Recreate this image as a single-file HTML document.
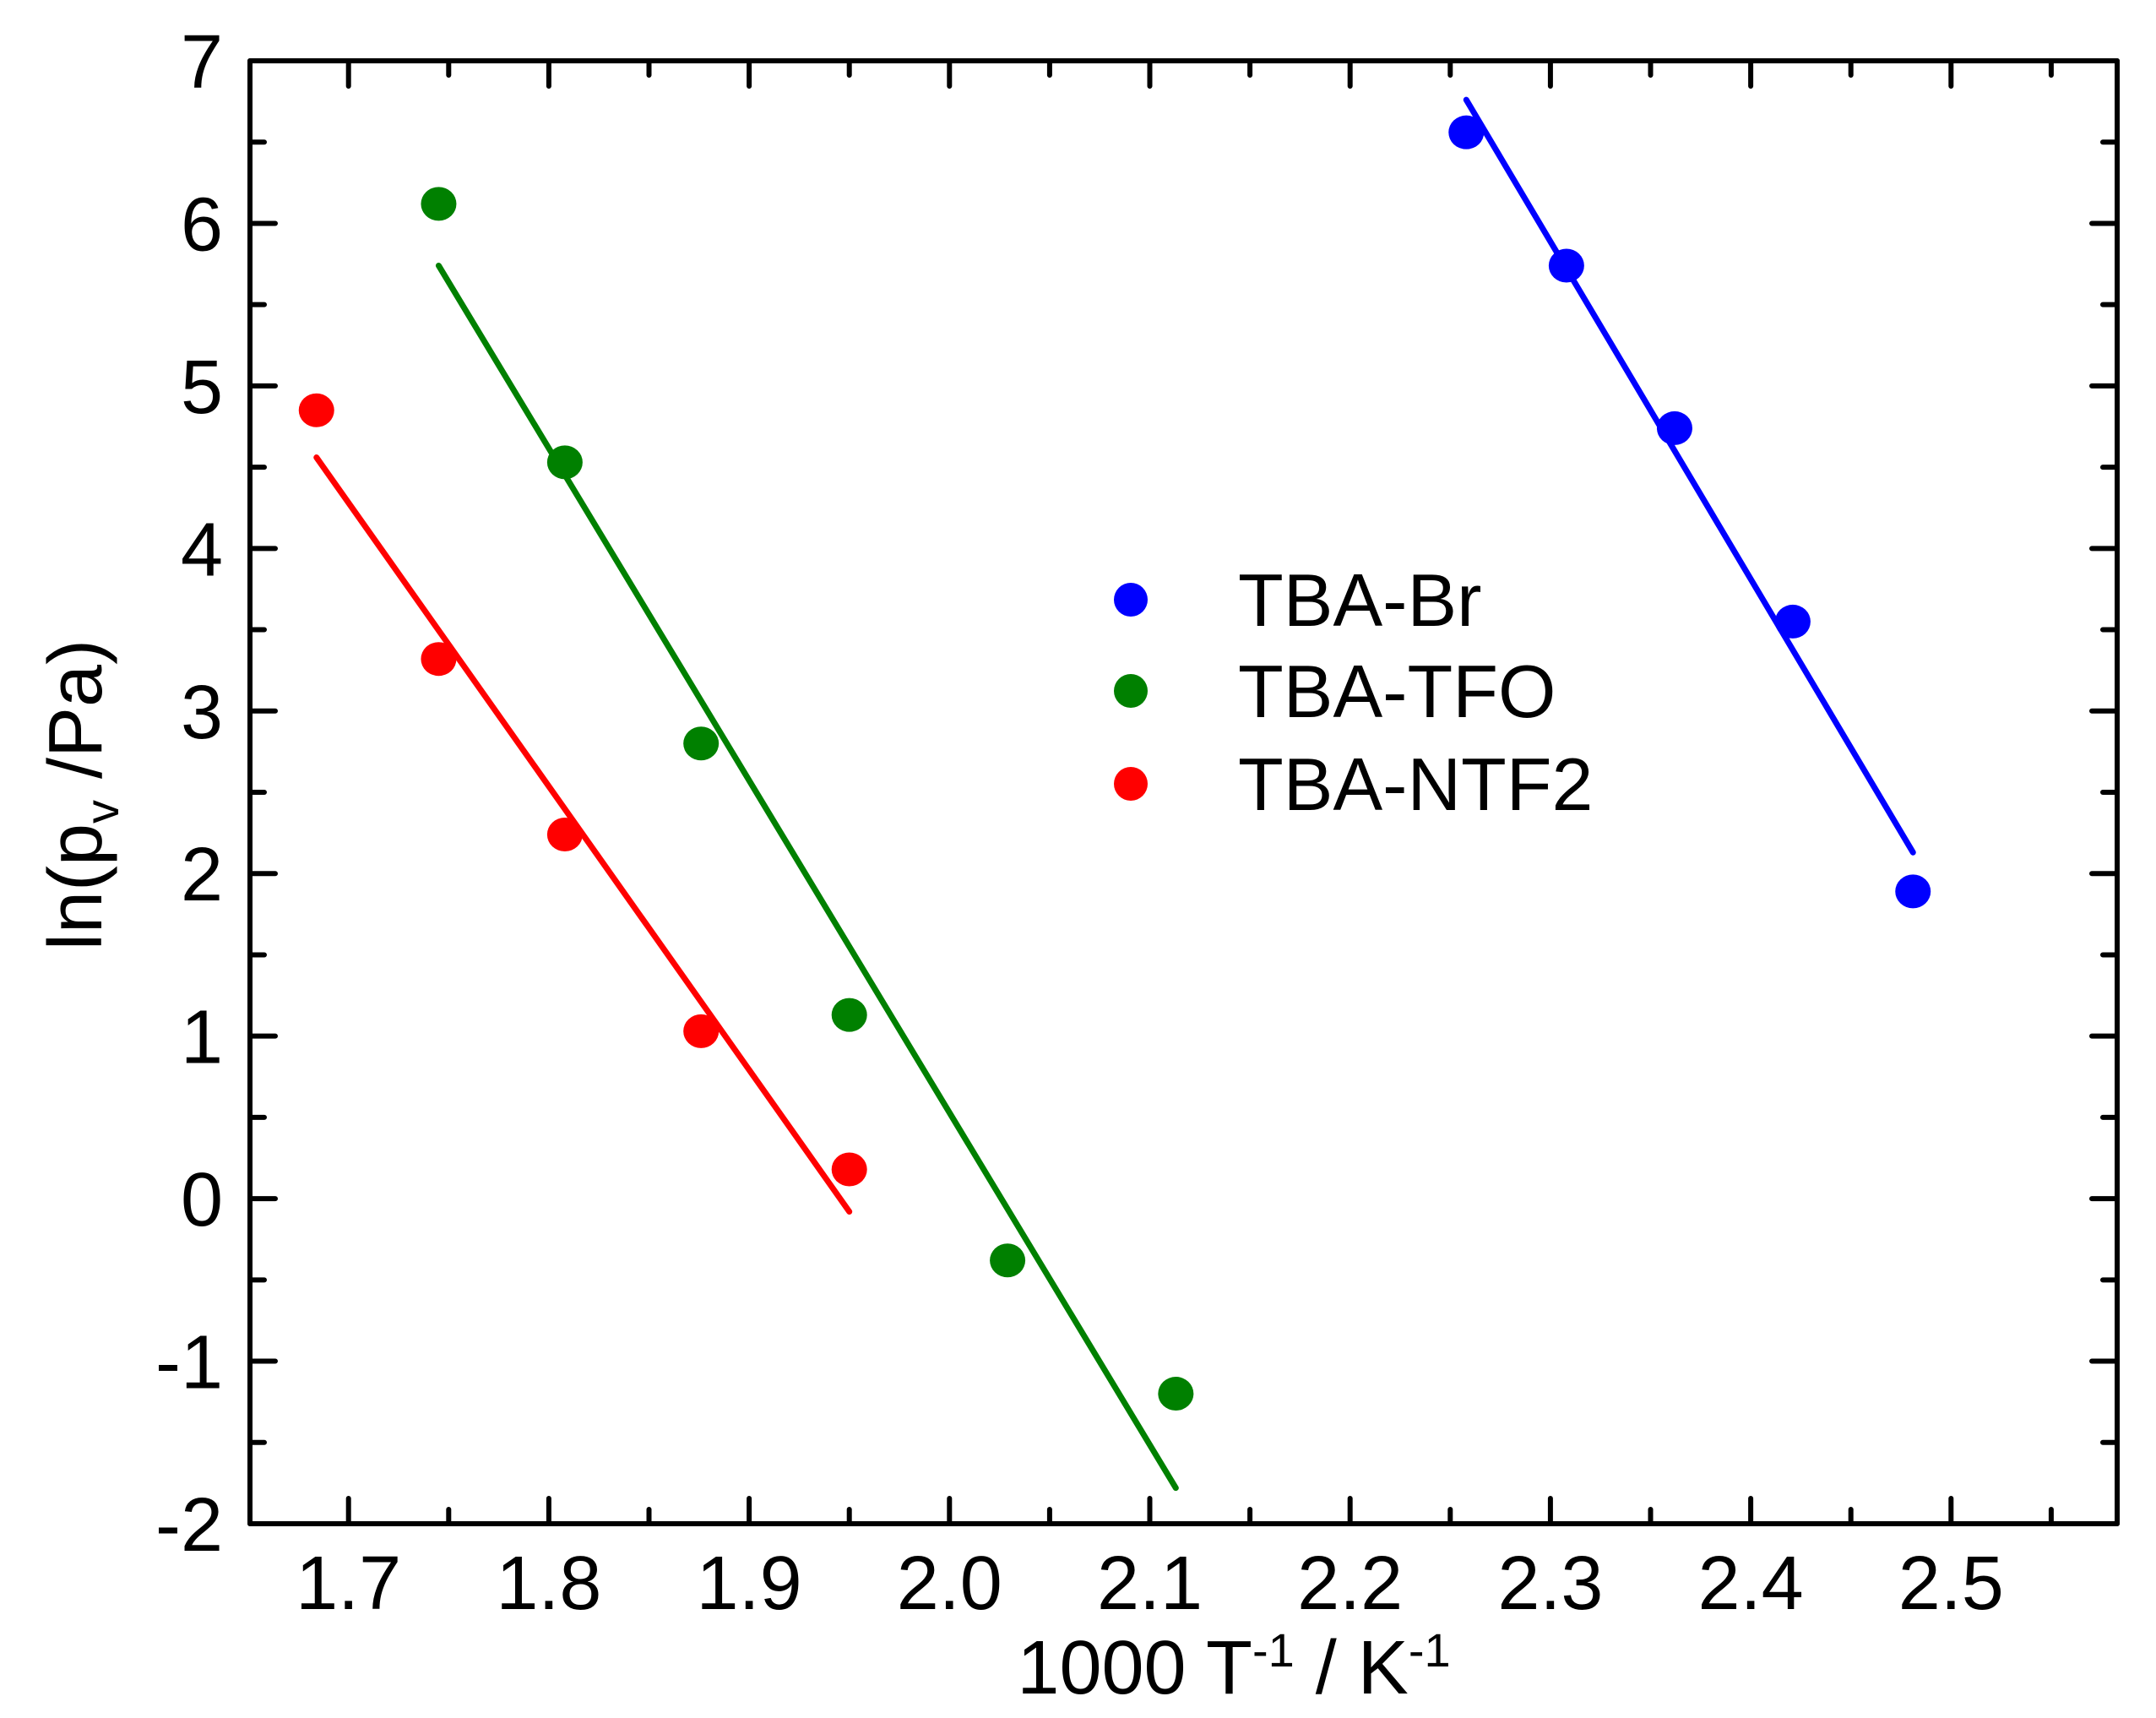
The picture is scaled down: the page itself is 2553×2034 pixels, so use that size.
<!DOCTYPE html>
<html><head><meta charset="utf-8"><style>
html,body{margin:0;padding:0;background:#fff;}
svg{display:block;font-family:"Liberation Sans",Arial,sans-serif;}
</style></head><body>
<svg id="chart" width="2553" height="2034" viewBox="0 0 2553 2034" xmlns="http://www.w3.org/2000/svg">
<g id="ticks"></g>
<g id="series"></g>
<rect x="296" y="72" width="2211" height="1732" fill="none" stroke="#000" stroke-width="6" stroke-linejoin="round"/>
<g font-size="88">
  <circle cx="1339" cy="710" r="20" fill="#0000ff"/>
  <text x="1466" y="741">TBA-Br</text>
  <circle cx="1339" cy="818" r="20" fill="#008000"/>
  <text x="1466" y="849">TBA-TFO</text>
  <circle cx="1339" cy="928" r="20" fill="#ff0000"/>
  <text x="1466" y="959">TBA-NTF2</text>
</g>
<text x="1461" y="2005" font-size="90" text-anchor="middle">1000 T<tspan dy="-32" font-size="56">-1</tspan><tspan dy="32"> / K</tspan><tspan dy="-32" font-size="56">-1</tspan></text>
<text transform="translate(120,941) rotate(-90)" font-size="90" text-anchor="middle">ln(p<tspan dy="20" font-size="56">v</tspan><tspan dy="-20"> /Pa)</tspan></text>
</svg>
<script>
const xTicks=[1.7,1.8,1.9,2.0,2.1,2.2,2.3,2.4,2.5];
const xTickLabels=["1.7","1.8","1.9","2.0","2.1","2.2","2.3","2.4","2.5"];
const yTicks=[-2,-1,0,1,2,3,4,5,6,7];
const yTickLabels=["-2","-1","0","1","2","3","4","5","6","7"];
const brX=[2.258,2.308,2.362,2.421,2.481];
const brY=[6.56,5.74,4.74,3.55,1.89];
const brFitX=[2.258,2.481];
const brFitY=[6.76,2.13];
const tfoX=[1.745,1.808,1.876,1.950,2.029,2.113];
const tfoY=[6.12,4.53,2.80,1.13,-0.38,-1.20];
const tfoFitX=[1.745,2.113];
const tfoFitY=[5.74,-1.78];
const ntfX=[1.684,1.745,1.808,1.876,1.950];
const ntfY=[4.85,3.32,2.24,1.03,0.18];
const ntfFitX=[1.684,1.950];
const ntfFitY=[4.56,-0.08];

const X0=296,X1=2507,Y0=72,Y1=1804;
const xmin=1.6508,xmax=1.6508+(X1-X0)/2372;
const ymin=-2,ymax=7;
function sx(v){return X0+(v-xmin)/(xmax-xmin)*(X1-X0);}
function sy(v){return Y1-(v-ymin)/(ymax-ymin)*(Y1-Y0);}
const NS="http://www.w3.org/2000/svg";
function mk(tag,attrs,parent){const e=document.createElementNS(NS,tag);for(const k in attrs)e.setAttribute(k,attrs[k]);parent.appendChild(e);return e;}
const tg=document.getElementById('ticks');
const sg=document.getElementById('series');
xTicks.forEach((v,i)=>{
  const x=sx(v);
  let t=mk('path',{d:`M${x},${Y1}V${Y1-30}M${x},${Y0}V${Y0+30}`,stroke:'#000','stroke-width':6,'stroke-linecap':'round'},tg);
  
  
  const xm=sx(v+0.05);
  if(xm<X1){
    let m=mk('path',{d:`M${xm},${Y1}V${Y1-17}M${xm},${Y0}V${Y0+17}`,stroke:'#000','stroke-width':6,'stroke-linecap':'round'},tg);
    
    
  }
  let l=mk('text',{x:x,y:1905,'font-size':90,'text-anchor':'middle'},tg);
  l.textContent=xTickLabels[i];
  
  
});
yTicks.forEach((v,i)=>{
  const y=sy(v);
  let t=mk('path',{d:`M${X0},${y}H${X0+30}M${X1},${y}H${X1-30}`,stroke:'#000','stroke-width':6,'stroke-linecap':'round'},tg);
  
  
  if(v<ymax){
    const ym=sy(v+0.5);
    let m=mk('path',{d:`M${X0},${ym}H${X0+17}M${X1},${ym}H${X1-17}`,stroke:'#000','stroke-width':6,'stroke-linecap':'round'},tg);
    
    
  }
  let l=mk('text',{x:264,y:y+32,'font-size':90,'text-anchor':'end'},tg);
  l.textContent=yTickLabels[i];
  
  
});
function series(xs,ys,fx,fy,col,name){
  let ln=mk('line',{x1:sx(fx[0]),y1:sy(fy[0]),x2:sx(fx[1]),y2:sy(fy[1]),stroke:col,'stroke-width':7,'stroke-linecap':'round'},sg);
  
  
  xs.forEach((x,i)=>{
    let c=mk('ellipse',{cx:sx(x),cy:sy(ys[i]),rx:21,ry:20,fill:col},sg);
    
    
  });
}
series(brX,brY,brFitX,brFitY,'#0000ff','tba-br');
series(tfoX,tfoY,tfoFitX,tfoFitY,'#008000','tba-tfo');
series(ntfX,ntfY,ntfFitX,ntfFitY,'#ff0000','tba-ntf2');
</script>
</body></html>
